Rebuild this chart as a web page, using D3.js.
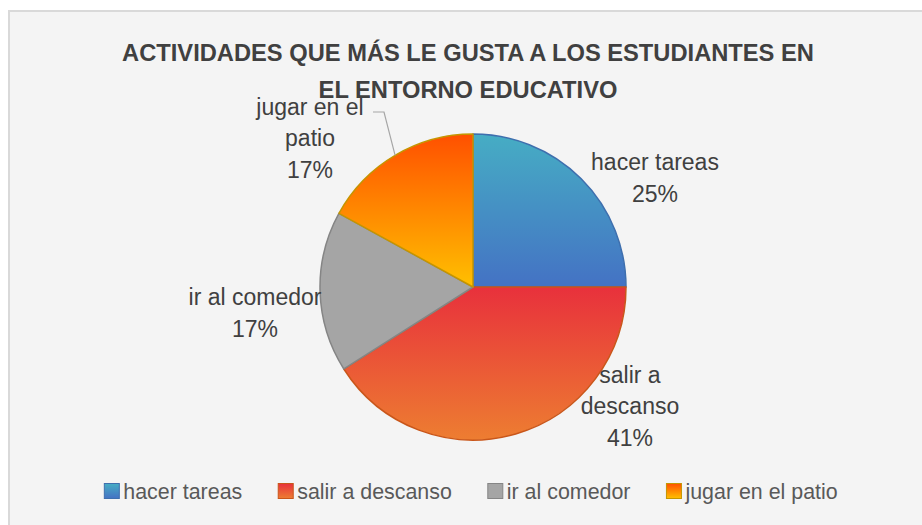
<!DOCTYPE html>
<html>
<head>
<meta charset="utf-8">
<script src="https://cdn.jsdelivr.net/npm/d3@7/dist/d3.min.js"></script>
<style>
  html, body { margin: 0; padding: 0; background: #ffffff; }
  svg { display: block; }
  text { font-family: "Liberation Sans", Arial, sans-serif; }
</style>
</head>
<body>
<div id="chart"></div>
<script>
// Chart data
const titleLines = ["ACTIVIDADES QUE MÁS LE GUSTA A LOS ESTUDIANTES EN", "EL ENTORNO EDUCATIVO"];
const categories = ["hacer tareas", "salir a descanso", "ir al comedor", "jugar en el patio"];
const values = [25, 41, 17, 17];
const labelLines = [["hacer tareas"], ["salir a", "descanso"], ["ir al comedor"], ["jugar en el", "patio"]];

// Colours: gradient top / bottom and outline for each slice
const gradTop = ["#46adc4", "#e8313c", "#a5a5a5", "#ff5000"];
const gradBottom = ["#4472c4", "#ed7d31", "#a5a5a5", "#ffc000"];
const outline = ["#3e6fae", "#c9561a", "#858585", "#c59500"];

const width = 922, height = 525;
const cx = 473, cy = 287, radius = 153;

const svg = d3.select("#chart").append("svg")
    .attr("width", width)
    .attr("height", height);

// chart area background + border
svg.append("rect")
    .attr("x", 9).attr("y", 11)
    .attr("width", 940).attr("height", 540)
    .attr("fill", "#f4f4f4")
    .attr("stroke", "#d9d9d9")
    .attr("stroke-width", 2);

// gradients
const defs = svg.append("defs");
categories.forEach((c, i) => {
    const g = defs.append("linearGradient")
        .attr("id", "grad" + i)
        .attr("x1", 0).attr("y1", 0).attr("x2", 0).attr("y2", 1);
    g.append("stop").attr("offset", "0%").attr("stop-color", gradTop[i]);
    g.append("stop").attr("offset", "100%").attr("stop-color", gradBottom[i]);
});

// title
svg.append("g").selectAll("text")
    .data(titleLines)
    .join("text")
    .attr("x", 468)
    .attr("y", (d, i) => 61 + i * 37)
    .attr("text-anchor", "middle")
    .attr("font-size", "23.7px")
    .attr("font-weight", "bold")
    .attr("fill", "#404040")
    .text(d => d);

// pie
const pie = d3.pie().sort(null).value(d => d);
const arcs = pie(values);
const arc = d3.arc().innerRadius(0).outerRadius(radius);
const edgeArc = d3.arc().innerRadius(radius).outerRadius(radius);

const g = svg.append("g").attr("transform", `translate(${cx},${cy})`);

g.selectAll("path")
    .data(arcs)
    .join("path")
    .attr("d", arc)
    .attr("fill", (d, i) => `url(#grad${i})`)
    .attr("stroke", (d, i) => outline[i])
    .attr("stroke-width", 1.5)
    .attr("stroke-linejoin", "round");

// data labels (offset of label block centre from pie centre)
const labelOffsets = [[182, -109], [157, 119], [-218, 26], [-163, -149]];
const total = d3.sum(values);
const lineH = 31.5;

arcs.forEach((a, i) => {
    const lines = labelLines[i].concat([Math.round(a.value / total * 100) + "%"]);
    const [ox, oy] = labelOffsets[i];
    const top = oy - (lines.length - 1) * lineH / 2;
    g.append("text")
        .attr("text-anchor", "middle")
        .attr("font-size", "23px")
        .attr("fill", "#404040")
        .selectAll("tspan")
        .data(lines)
        .join("tspan")
        .attr("x", ox)
        .attr("y", (d, k) => top + k * lineH + 8)
        .text(d => d);
});

// leader line for "jugar en el patio"
const lp = edgeArc.centroid(arcs[3]);
g.append("polyline")
    .attr("points", [[-100, -175], [-89, -175], lp].map(p => p.join(",")).join(" "))
    .attr("fill", "none")
    .attr("stroke", "#a6a6a6")
    .attr("stroke-width", 1.2);

// legend
const legend = svg.append("g").attr("transform", "translate(0,491)");
const items = legend.selectAll("g")
    .data(categories)
    .join("g");

items.append("rect")
    .attr("x", 0).attr("y", -7.5)
    .attr("width", 15).attr("height", 15)
    .attr("fill", (d, i) => `url(#grad${i})`)
    .attr("stroke", (d, i) => outline[i])
    .attr("stroke-width", 1);

items.append("text")
    .attr("x", 19)
    .attr("y", 7.5)
    .attr("font-size", "21.4px")
    .attr("fill", "#595959")
    .text(d => d);

// lay out legend items in a row, centred
const gap = 36;
let widths = [];
items.each(function() { widths.push(this.getBBox().width); });
const totalW = d3.sum(widths) + gap * (widths.length - 1);
let x0 = 471 - totalW / 2;
items.attr("transform", (d, i) => {
    const t = `translate(${x0},0)`;
    x0 += widths[i] + gap;
    return t;
});
</script>
</body>
</html>
